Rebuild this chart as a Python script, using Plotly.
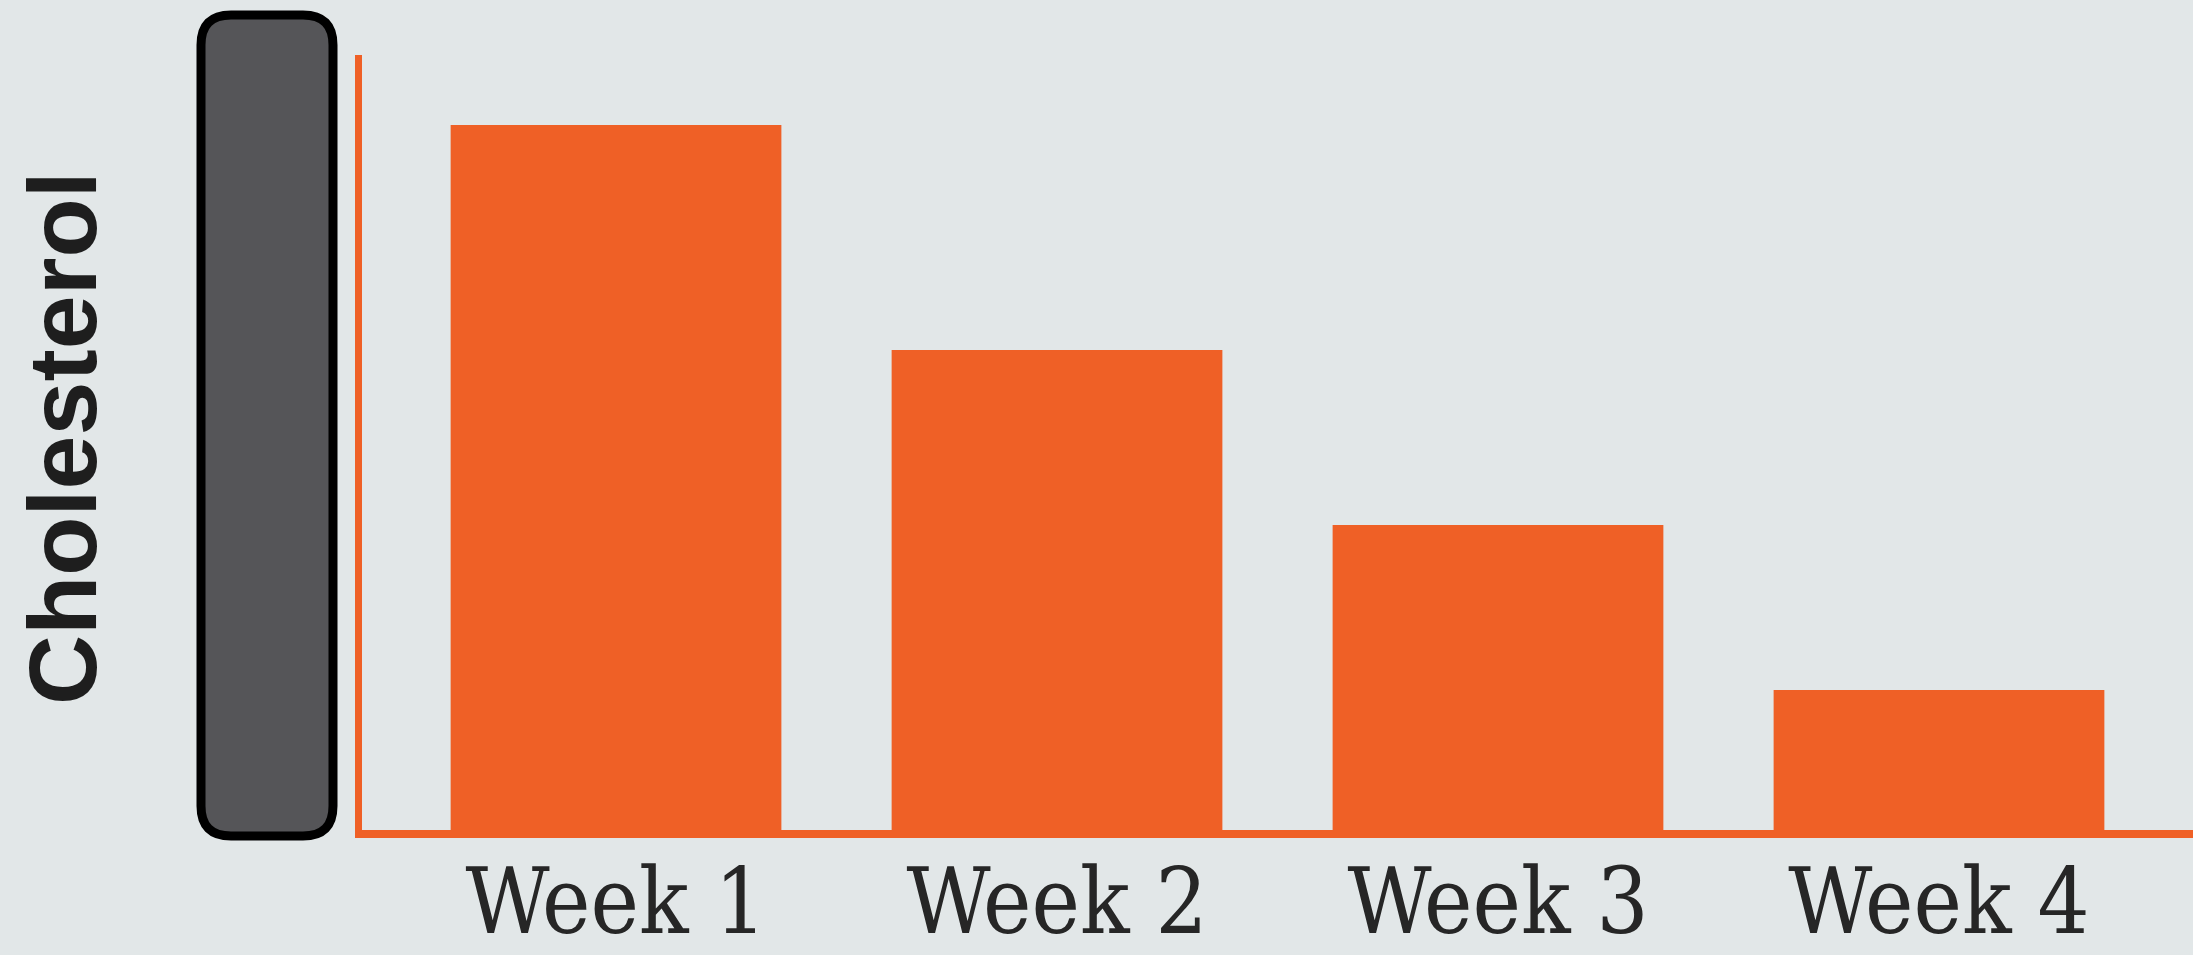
import plotly.graph_objects as go

# ---- data ----
weeks = ["Week 1", "Week 2", "Week 3", "Week 4"]
cholesterol = [70.5, 48, 30.5, 14]
y_max = 77.5
axis_title = "Cholesterol"

# ---- style ----
BG = "#e2e7e8"
ORANGE = "#ef6026"
W, H = 2193, 955
ML, MR, MT, MB = 362, 0, 55, 125
PW, PH = W - ML - MR, H - MT - MB

fig = go.Figure(
    go.Bar(
        x=list(range(len(weeks))),
        y=cholesterol,
        marker=dict(color=ORANGE, line=dict(width=0)),
        width=0.75,
        hoverinfo="skip",
    )
)

# rounded dark bar left of the axis (decorative), in paper coordinates
def px_x(p):
    return (p - ML) / PW

def px_y(p):
    return (H - MB - p) / PH

x0, x1, y0, y1 = px_x(201), px_x(333), px_y(836), px_y(15)
rx, ry = 30 / PW, 30 / PH
path = (
    f"M {x0+rx},{y0} L {x1-rx},{y0} Q {x1},{y0} {x1},{y0+ry} "
    f"L {x1},{y1-ry} Q {x1},{y1} {x1-rx},{y1} "
    f"L {x0+rx},{y1} Q {x0},{y1} {x0},{y1-ry} "
    f"L {x0},{y0+ry} Q {x0},{y0} {x0+rx},{y0} Z"
)
fig.add_shape(
    type="path", path=path, xref="paper", yref="paper",
    fillcolor="#555558", line=dict(color="#000000", width=9), layer="above",
)

fig.add_annotation(
    text=axis_title, textangle=-90, xref="paper", yref="paper",
    x=0, y=px_y(438), xanchor="center", yanchor="middle", xshift=63 - ML,
    showarrow=False,
    font=dict(family="Liberation Sans", size=97, color="#1e1e1e", weight="bold"),
)

fig.update_layout(
    width=W, height=H, autosize=False,
    margin=dict(l=ML, r=MR, t=MT, b=MB, autoexpand=False),
    paper_bgcolor=BG, plot_bgcolor=BG,
    showlegend=False,
    xaxis=dict(
        range=[-0.576, 3.576], automargin=False,
        tickmode="array", tickvals=list(range(len(weeks))), ticktext=weeks,
        ticks="", showgrid=False, zeroline=False,
        showline=True, linecolor=ORANGE, linewidth=8,
        tickfont=dict(family="DejaVu Serif Condensed, DejaVu Serif", size=91,
                      color="#262626"),
        ticklabelstandoff=-14,
    ),
    yaxis=dict(
        range=[0, y_max], automargin=False, showticklabels=False, ticks="",
        showgrid=False, zeroline=False, showline=True, linecolor=ORANGE,
        linewidth=7,
    ),
)

fig.write_html(
    "out.html",
    config={"displayModeBar": False},
    post_script="document.body.style.margin='0';"
                "document.body.style.overflow='hidden';"
                f"document.body.style.background='{BG}';",
)
